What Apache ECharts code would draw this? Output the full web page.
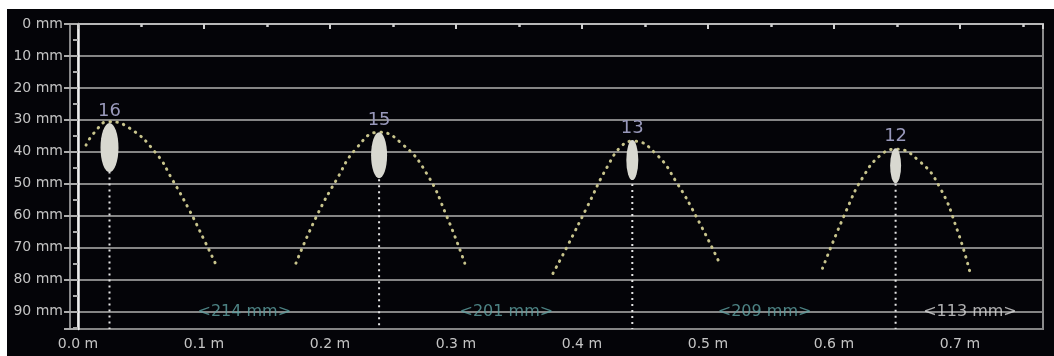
<!DOCTYPE html>
<html>
<head>
<meta charset="utf-8">
<script src="https://cdn.jsdelivr.net/npm/echarts@6/dist/echarts.min.js"></script>
<style>
  html, body { margin: 0; padding: 0; background: #ffffff; width: 1054px; height: 356px; overflow: hidden; }
  #c { position: absolute; left: 7px; top: 9px; width: 1047px; height: 347px; background: #040408; }
</style>
</head>
<body>
<div id="c"></div>
<script>
// ---- data ----
const nozzleX = [0.025, 0.239, 0.440, 0.649];          // m
const nozzleCenterY = [38.7, 41.1, 42.6, 44.4];        // mm
const nozzleCount = [16, 15, 13, 12];
const spacingText = ['<214 mm>', '<201 mm>', '<209 mm>', '<113 mm>'];
const spacingX = [0.132, 0.340, 0.545, 0.708];
const spacingY = [90, 90, 90, 90];
const xMax = 0.766;
const yMax = 95.5;

const curve1 = [[0.0064, 37.9], [0.013, 34.0], [0.024, 30.6], [0.0405, 32.5], [0.062, 40.5], [0.075, 48.8], [0.088, 58.0], [0.100, 67.5], [0.1097, 75.5]];
const curve2 = [[0.173, 74.9], [0.189, 60.5], [0.205, 48.9], [0.221, 38.9], [0.239, 33.9], [0.258, 37.8], [0.277, 47.0], [0.293, 60.5], [0.307, 74.9]];
const curve3 = [[0.377, 78.1], [0.388, 69.9], [0.404, 57.4], [0.420, 44.8], [0.432, 38.0], [0.441, 36.7], [0.459, 40.8], [0.475, 49.5], [0.493, 62.0], [0.510, 75.5]];
const curve4 = [[0.591, 76.5], [0.610, 58.3], [0.623, 48.0], [0.637, 41.1], [0.649, 39.2], [0.668, 43.0], [0.684, 51.1], [0.698, 64.6], [0.708, 77.7]];
const curves = [curve1, curve2, curve3, curve4];

// ---- styling ----
const nozzleSizes = [[18, 49], [16, 46], [12, 40], [11, 35]];
const spacingColors = ['#5fa2a2', '#5fa2a2', '#5fa2a2', '#dadada'];

const chart = echarts.init(document.getElementById('c'), null, { renderer: 'canvas' });

const series = [];
curves.forEach(function (c) {
  series.push({
    type: 'line', data: c, smooth: 0.5, showSymbol: false, silent: true, z: 3,
    lineStyle: { color: '#c8c48c', width: 3, type: [0.5, 6.5], cap: 'round' }
  });
});
nozzleX.forEach(function (x, i) {
  series.push({
    type: 'line', data: [[x, nozzleCenterY[i]], [x, yMax]], showSymbol: false, silent: true, z: 2,
    lineStyle: { color: '#e4e4e4', width: 2, type: [2, 4] }
  });
});
series.push({
  type: 'scatter', z: 5,
  data: nozzleX.map(function (x, i) { return [x, nozzleCenterY[i], nozzleCount[i]]; }),
  symbol: 'circle',
  symbolSize: function (v, p) { return nozzleSizes[p.dataIndex]; },
  itemStyle: { color: '#d8d8d0', opacity: 1 },
  label: {
    show: true, position: 'top', distance: 3,
    formatter: function (p) { return String(p.value[2]); },
    color: '#9898ba', fontSize: 18, fontFamily: 'DejaVu Sans'
  }
});
series.push({
  type: 'scatter', z: 6, symbolSize: 0,
  data: spacingX.map(function (x, i) {
    return { value: [x, spacingY[i]], label: { color: spacingColors[i] }, name: spacingText[i] };
  }),
  label: {
    show: true, position: 'inside',
    formatter: function (p) { return p.name; },
    fontSize: 16, fontFamily: 'DejaVu Sans'
  }
});

chart.setOption({
  animation: false,
  backgroundColor: '#040408',
  grid: { left: 71, top: 15, right: 11, bottom: 27, show: true, borderColor: '#8c8c8c', borderWidth: 2, backgroundColor: 'transparent' },
  xAxis: {
    type: 'value', min: 0, max: xMax, interval: 0.1,
    axisLine: { show: true, lineStyle: { color: '#b8b8b8', width: 2 } },
    axisTick: { show: true, length: 5, lineStyle: { color: '#d0d0d0', width: 2 } },
    minorTick: { show: true, splitNumber: 2, length: 3, lineStyle: { color: '#d0d0d0', width: 2.5 } },
    splitLine: { show: false },
    axisLabel: {
      color: '#c4c4c4', fontSize: 14, fontFamily: 'DejaVu Sans', margin: 8, showMaxLabel: false,
      formatter: function (v) { return Math.abs(v * 10 - Math.round(v * 10)) < 1e-6 ? v.toFixed(1) + ' m' : ''; }
    }
  },
  yAxis: [{
    type: 'value', min: 0, max: yMax, interval: 10, inverse: true,
    axisLine: { show: true, lineStyle: { color: '#eeeeee', width: 2.5 } },
    axisTick: { show: true, length: 14, lineStyle: { color: '#acacac', width: 2 } },
    minorTick: { show: true, splitNumber: 2, length: 5, lineStyle: { color: '#acacac', width: 2 } },
    splitLine: { show: true, lineStyle: { color: '#858585', width: 2 } },
    axisLabel: {
      color: '#c4c4c4', fontSize: 14, fontFamily: 'DejaVu Sans', margin: 15, showMaxLabel: false,
      formatter: function (v) { return Math.abs(v % 10) < 1e-6 ? v + ' mm' : ''; }
    }
  }, {
    type: 'value', min: 0, max: yMax, inverse: true, position: 'left', offset: 8,
    axisLine: { show: true, lineStyle: { color: '#b4b4b4', width: 1.5 } },
    axisTick: { show: false }, axisLabel: { show: false }, splitLine: { show: false }
  }],
  series: series
});
</script>
</body>
</html>
